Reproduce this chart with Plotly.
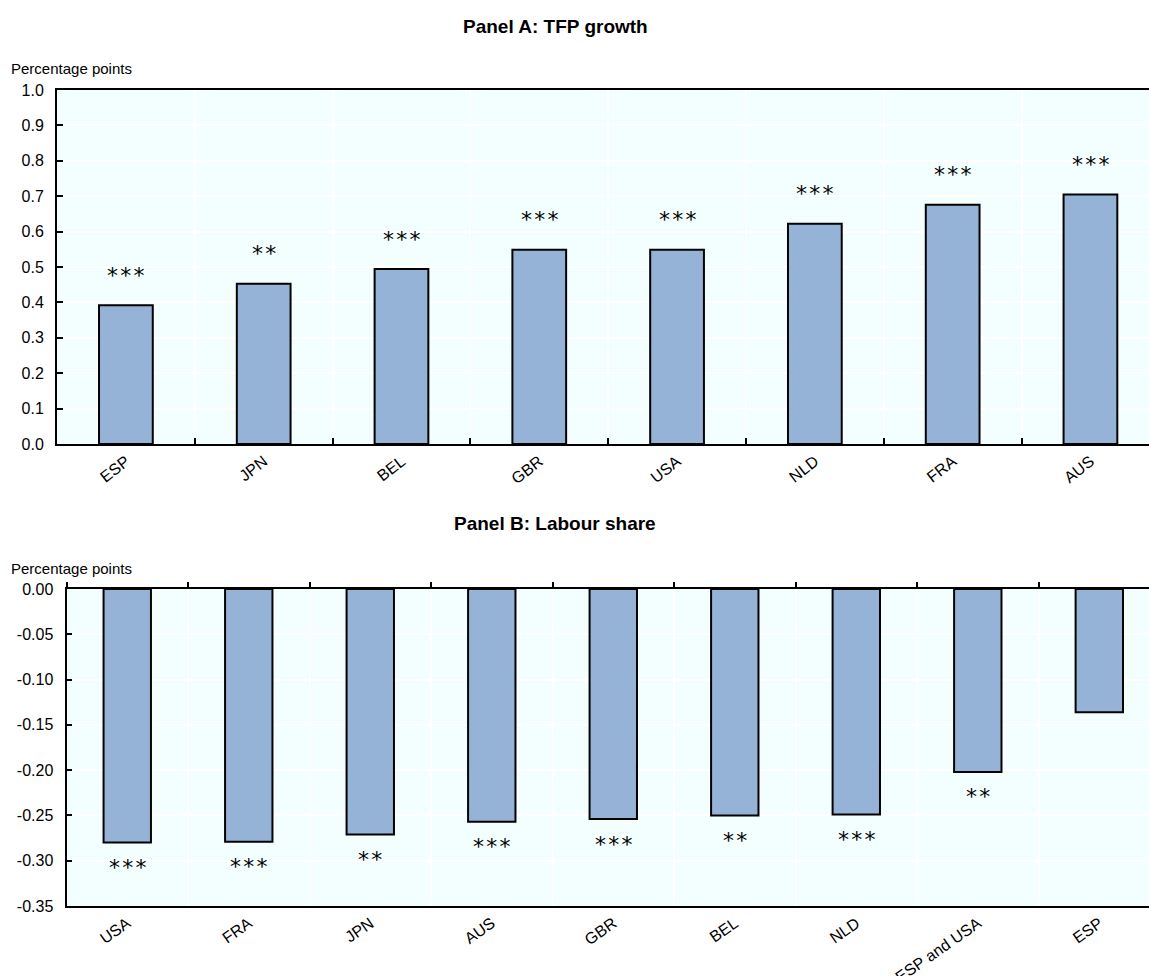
import plotly.graph_objects as go

# ---------------- data ----------------
tfp_countries = ["ESP", "JPN", "BEL", "GBR", "USA", "NLD", "FRA", "AUS"]
tfp_values = [0.392, 0.453, 0.494, 0.549, 0.549, 0.622, 0.676, 0.705]
tfp_stars = ["***", "**", "***", "***", "***", "***", "***", "***"]

ls_countries = ["USA", "FRA", "JPN", "AUS", "GBR", "BEL", "NLD", "ESP and USA", "ESP"]
ls_values = [-0.280, -0.279, -0.271, -0.257, -0.254, -0.250, -0.249, -0.202, -0.136]
ls_stars = ["***", "***", "**", "***", "***", "**", "***", "**", ""]

tfp_ticks = [0.0, 0.1, 0.2, 0.3, 0.4, 0.5, 0.6, 0.7, 0.8, 0.9, 1.0]
tfp_ticktext = ["0.0", "0.1", "0.2", "0.3", "0.4", "0.5", "0.6", "0.7", "0.8", "0.9", "1.0"]
ls_ticks = [0.0, -0.05, -0.10, -0.15, -0.20, -0.25, -0.30, -0.35]
ls_ticktext = ["0.00", "-0.05", "-0.10", "-0.15", "-0.20", "-0.25", "-0.30", "-0.35"]

# ---------------- style ----------------
W, H = 1149, 976
BAR = "#95B3D7"
BG = "#F3FFFF"
FONT = "Liberation Sans, Arial, sans-serif"
STARFONT = "DejaVu Sans, sans-serif"


def px_x(p):
    return p / W


def px_y(p):
    return 1 - p / H


fig = go.Figure()

fig.add_trace(go.Bar(
    x=tfp_countries, y=tfp_values, width=0.39,
    marker=dict(color=BAR, line=dict(color="black", width=2)),
    xaxis="x", yaxis="y", showlegend=False, hoverinfo="skip",
))
fig.add_trace(go.Bar(
    x=ls_countries, y=ls_values, width=0.39,
    marker=dict(color=BAR, line=dict(color="black", width=2)),
    xaxis="x2", yaxis="y2", showlegend=False, hoverinfo="skip",
))
# invisible helper trace for the top axis of panel B
fig.add_trace(go.Scatter(
    x=ls_countries, y=[None] * len(ls_countries), mode="markers",
    xaxis="x3", yaxis="y2", showlegend=False, hoverinfo="skip",
))

axis_common = dict(
    showline=True, linecolor="black", linewidth=2,
    tickcolor="black", tickwidth=2,
    gridcolor="white", gridwidth=1.5, zeroline=False,
    tickfont=dict(family=FONT, size=16, color="black"),
    automargin=False,
)

yA0, yA1 = 444, 90
yB0, yB1 = 906, 589

fig.update_layout(
    width=W, height=H,
    margin=dict(l=0, r=0, t=0, b=0),
    paper_bgcolor="white",
    plot_bgcolor=BG,
    font=dict(family=FONT, color="black"),
    xaxis=dict(
        axis_common, domain=[px_x(57), 1], anchor="y",
        type="category", categoryarray=tfp_countries,
        range=[-0.5, 7.425], tickson="boundaries",
        ticks="inside", ticklen=6, mirror=True, showgrid=True,
        tickangle=-38,
    ),
    yaxis=dict(
        axis_common, domain=[px_y(yA0), px_y(yA1)], anchor="x",
        range=[0, 1], tickvals=tfp_ticks, ticktext=tfp_ticktext,
        ticks="inside", ticklen=6, showgrid=True, ticklabelstandoff=8,
    ),
    xaxis2=dict(
        axis_common, domain=[px_x(66.5), 1], anchor="y2",
        type="category", categoryarray=ls_countries,
        range=[-0.5, 8.409], tickson="boundaries",
        ticks="", showgrid=True, tickangle=-35,
    ),
    xaxis3=dict(
        axis_common, overlaying="x2", side="top", anchor="y2",
        type="category", categoryarray=ls_countries,
        range=[-0.5, 8.409], tickson="boundaries",
        ticks="outside", ticklen=5, showgrid=False, showticklabels=False,
    ),
    yaxis2=dict(
        axis_common, domain=[px_y(yB0), px_y(yB1)], anchor="x2",
        range=[-0.35, 0], tickvals=ls_ticks, ticktext=ls_ticktext,
        ticks="inside", ticklen=5, showgrid=True, ticklabelstandoff=8,
    ),
)

SEP = "\u200a"
annotations = []
# stars
for c, v, s in zip(tfp_countries, tfp_values, tfp_stars):
    if s:
        annotations.append(dict(
            x=c, y=v, xref="x", yref="y", text=SEP.join(s), showarrow=False,
            yanchor="middle", yshift=30, font=dict(family=STARFONT, size=22, color="black"),
        ))
for c, v, s in zip(ls_countries, ls_values, ls_stars):
    if s:
        annotations.append(dict(
            x=c, y=v, xref="x2", yref="y2", text=SEP.join(s), showarrow=False,
            yanchor="middle", yshift=-25, font=dict(family=STARFONT, size=22, color="black"),
        ))

# titles and unit labels
annotations += [
    dict(x=px_x(555), y=px_y(26), xref="paper", yref="paper", text="<b>Panel A: TFP growth</b>",
         showarrow=False, xanchor="center", yanchor="middle",
         font=dict(family=FONT, size=19, color="black")),
    dict(x=px_x(555), y=px_y(523), xref="paper", yref="paper", text="<b>Panel B: Labour share</b>",
         showarrow=False, xanchor="center", yanchor="middle",
         font=dict(family=FONT, size=19, color="black")),
    dict(x=px_x(9), y=px_y(68), xref="paper", yref="paper", text="Percentage points",
         showarrow=False, xanchor="left", yanchor="middle",
         font=dict(family=FONT, size=15, color="black")),
    dict(x=px_x(9), y=px_y(568), xref="paper", yref="paper", text="Percentage points",
         showarrow=False, xanchor="left", yanchor="middle",
         font=dict(family=FONT, size=15, color="black")),
]
fig.update_layout(annotations=annotations)

fig.write_html("out.html")
